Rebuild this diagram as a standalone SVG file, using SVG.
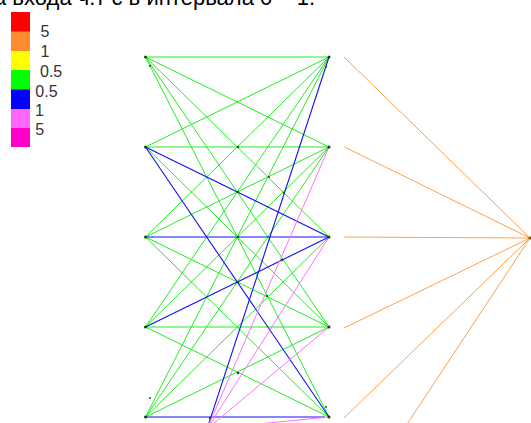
<svg xmlns="http://www.w3.org/2000/svg" width="531" height="423" viewBox="0 0 531 423">
<style>
.g{stroke:#22ee22;stroke-width:1;fill:none}
.b{stroke:#1010f0;stroke-width:1.1;fill:none}
.m{stroke:#ff70ff;stroke-width:1;fill:none}
.o{stroke:#ffa048;stroke-width:1;fill:none}
.lbl{font-family:"Liberation Sans",Arial,sans-serif;font-size:16px;fill:#333}
.ttl{font-family:"Liberation Sans",Arial,sans-serif;font-size:22px;fill:#000}
.nd{fill:#064a06}
.dot{fill:#1a4a1a}
</style>
<rect width="531" height="423" fill="#fff"/>
<text class="ttl" x="-6" y="4.5">а входа ч.т с в интервала 0 – 1.</text>
<g id="legend">
<rect x="11" y="12" width="19" height="20" fill="#ff0000"/>
<rect x="11" y="31.5" width="19" height="20" fill="#ff8c2e"/>
<rect x="11" y="51" width="19" height="20" fill="#ffff00"/>
<rect x="11" y="70" width="19" height="20" fill="#00ff00"/>
<rect x="11" y="89.5" width="19" height="20" fill="#0000ff"/>
<rect x="11" y="109" width="19" height="20" fill="#ff66ff"/>
<rect x="11" y="128" width="19" height="19" fill="#ff00cc"/>
<text class="lbl" x="40.5" y="36.5">5</text>
<text class="lbl" x="40.5" y="56.5">1</text>
<text class="lbl" x="40" y="76.5">0.5</text>
<text class="lbl" x="35.3" y="96.5">0.5</text>
<text class="lbl" x="35" y="115.5">1</text>
<text class="lbl" x="35.3" y="135">5</text>
</g>
<g id="connectors">
<line class="g" x1="145.5" y1="57" x2="329" y2="57"/>
<line class="g" x1="145.5" y1="57" x2="329" y2="147"/>
<line class="g" x1="145.5" y1="57" x2="329" y2="237"/>
<line class="g" x1="145.5" y1="57" x2="329" y2="327"/>
<line class="g" x1="145.5" y1="57" x2="329" y2="417"/>
<line class="g" x1="145.5" y1="147" x2="329" y2="57"/>
<line class="g" x1="145.5" y1="147" x2="329" y2="147"/>
<line class="g" x1="145.5" y1="147" x2="329" y2="327"/>
<line class="g" x1="145.5" y1="237" x2="329" y2="57"/>
<line class="g" x1="145.5" y1="237" x2="329" y2="147"/>
<line class="g" x1="145.5" y1="237" x2="329" y2="327"/>
<line class="g" x1="145.5" y1="237" x2="329" y2="417"/>
<line class="g" x1="145.5" y1="327" x2="329" y2="57"/>
<line class="g" x1="145.5" y1="327" x2="329" y2="147"/>
<line class="g" x1="145.5" y1="327" x2="329" y2="327"/>
<line class="g" x1="145.5" y1="327" x2="329" y2="417"/>
<line class="g" x1="145.5" y1="417" x2="329" y2="57"/>
<line class="g" x1="145.5" y1="417" x2="329" y2="147"/>
<line class="g" x1="145.5" y1="417" x2="329" y2="237"/>
<line class="g" x1="145.5" y1="417" x2="329" y2="327"/>
<line class="b" x1="145.5" y1="147" x2="329" y2="237"/>
<line class="b" x1="145.5" y1="147" x2="329" y2="417"/>
<line class="b" x1="145.5" y1="237" x2="329" y2="237"/>
<line class="b" x1="145.5" y1="327" x2="329" y2="237"/>
<line class="b" x1="145.5" y1="417" x2="325" y2="417"/>
<line class="b" x1="329" y1="57" x2="207" y2="429"/>
<line class="m" x1="329" y1="147" x2="207" y2="429"/>
<line class="m" x1="329" y1="237" x2="207" y2="429"/>
<line class="m" x1="329" y1="327" x2="207" y2="429"/>
<line class="m" x1="329" y1="417" x2="207" y2="429"/>
<line class="o" x1="344" y1="57" x2="530" y2="238"/>
<line class="o" x1="344.5" y1="147" x2="530" y2="238"/>
<line class="o" x1="344" y1="237" x2="530" y2="238"/>
<line class="o" x1="344" y1="328" x2="530" y2="238"/>
<line class="o" x1="344" y1="418" x2="530" y2="238"/>
<line class="o" x1="396" y1="441" x2="530" y2="238"/>
<circle class="dot" cx="238" cy="147" r="1.2"/>
<circle class="dot" cx="238" cy="192" r="1.2"/>
<circle class="dot" cx="238" cy="237" r="1.3"/>
<circle class="dot" cx="238" cy="282" r="1.3"/>
<circle class="dot" cx="238" cy="373" r="1.2"/>
<circle class="dot" cx="284" cy="193" r="1.1"/>
<circle class="dot" cx="269" cy="177" r="1"/>
<circle class="dot" cx="282" cy="260" r="1.2"/>
<circle class="dot" cx="267" cy="296" r="1.1"/>
<circle class="dot" cx="150" cy="66" r="1"/>
<circle class="dot" cx="326" cy="67" r="1"/>
<circle class="dot" cx="150" cy="398" r="1"/>
<circle class="dot" cx="326" cy="407" r="1"/>
<circle class="dot" cx="210" cy="418" r="1.2"/>
</g>
<g id="node-l1"><circle class="nd" cx="145.5" cy="57" r="1.5"/></g>
<g id="node-l2"><circle class="nd" cx="145.5" cy="147" r="1.5"/></g>
<g id="node-l3"><circle class="nd" cx="145.5" cy="237" r="1.5"/></g>
<g id="node-l4"><circle class="nd" cx="145.5" cy="327" r="1.5"/></g>
<g id="node-l5"><circle class="nd" cx="145.5" cy="417" r="1.5"/></g>
<g id="node-r1"><circle class="nd" cx="329" cy="57" r="1.5"/></g>
<g id="node-r2"><circle class="nd" cx="329" cy="147" r="1.5"/></g>
<g id="node-r3"><circle class="nd" cx="329" cy="237" r="1.5"/></g>
<g id="node-r4"><circle class="nd" cx="329" cy="327" r="1.5"/></g>
<g id="node-r5"><circle class="nd" cx="329" cy="417" r="1.5"/></g>
<g id="node-out"><circle cx="530" cy="238" r="1.5" fill="#8a4a10"/></g>
</svg>
